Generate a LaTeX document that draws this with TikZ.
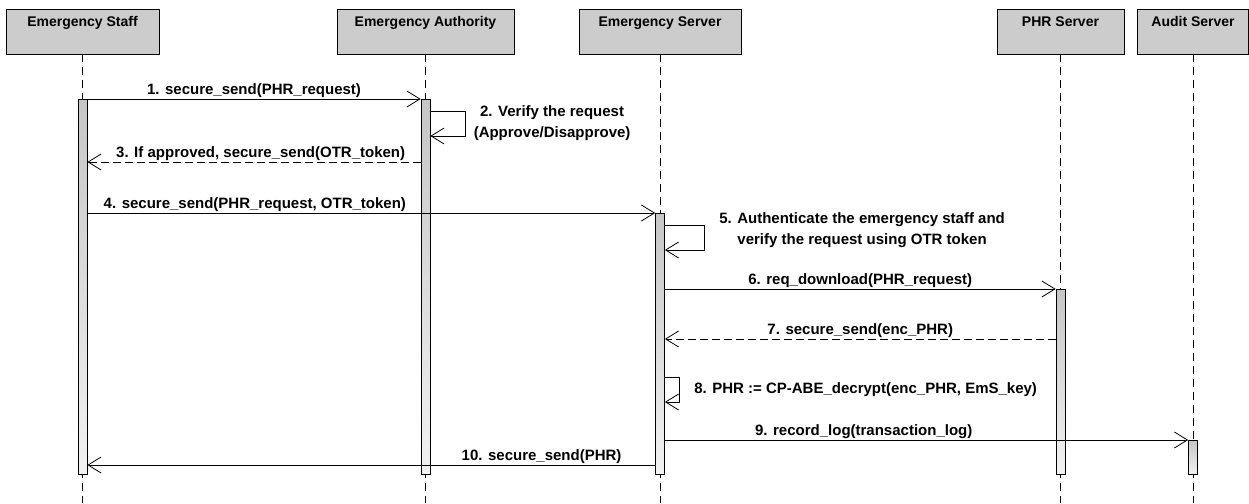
\documentclass[tikz,border=0pt]{standalone}
\usepackage{fontspec}
\setmainfont{Liberation Sans}
\usetikzlibrary{arrows.meta,positioning}
\definecolor{headgray}{RGB}{204,204,204}
\definecolor{bartop}{RGB}{198,198,198}
\definecolor{barbottom}{RGB}{242,242,242}
\tikzset{%
    actorbox/.style={%
        draw, fill=headgray, line width=0.8pt,
        font=\fontsize{14}{16}\selectfont\bfseries,
        text height=15pt, text depth=24pt, inner ysep=3pt, inner xsep=0pt
    },
    actbar/.style={%
        draw, line width=0.7pt, anchor=north, inner sep=0pt,
        minimum width=9pt, minimum height=#1,
        top color=bartop, bottom color=barbottom
    },
    lifeline/.style={line width=0.7pt, dash pattern=on 8pt off 5pt},
    msgarrow/.style={line width=0.8pt, -{Straight Barb[length=13pt,width=16pt]}},
    msgreturn/.style={msgarrow, dash pattern=on 8pt off 4pt},
    msglabel/.style={%
        font=\fontsize{15}{21}\selectfont\bfseries,
        inner sep=1pt, text depth=3pt, align=center
    }
}

\begin{document}
\begin{tikzpicture}[x=1pt, y=-1pt]
\useasboundingbox (0,0) rectangle (1249,503);

\node[actorbox, minimum width=153pt] (staff) at (82.5,31.5) {Emergency Staff};
\node[actorbox, minimum width=177pt] (authority) at (425.5,31.5) {Emergency Authority};
\node[actorbox, minimum width=162pt] (server) at (660,31.5) {Emergency Server};
\node[actorbox, minimum width=127pt] (phr) at (1060.5,31.5) {PHR Server};
\node[actorbox, minimum width=111pt] (audit) at (1193,31.5) {Audit Server};

\draw[lifeline] (staff.south) -- (staff.south |- 0,503);
\draw[lifeline] (authority.south) -- (authority.south |- 0,503);
\draw[lifeline] (server.south) -- (server.south |- 0,503);
\draw[lifeline] (phr.south) -- (phr.south |- 0,503);
\draw[lifeline] (audit.south) -- (audit.south |- 0,503);

\node[actbar=375pt] (staffbar) at (staff.south |- 0,99) {};
\node[actbar=375pt] (authoritybar) at (authority.south |- 0,99) {};
\node[actbar=261pt] (serverbar) at (server.south |- 0,213) {};
\node[actbar=185pt] (phrbar) at (phr.south |- 0,289) {};
\node[actbar=34pt] (auditbar) at (audit.south |- 0,440) {};

\draw[msgarrow] (staffbar.east |- 0,99) -- node[msglabel, above] {1. secure\_send(PHR\_request)} (authoritybar.west |- 0,99);
\draw[msgarrow] (authoritybar.east |- 0,111) -- ++(35,0) |- node[msglabel, pos=0.25, right=7pt] {2. Verify the request\\(Approve/Disapprove)} (authoritybar.east |- 0,136);
\draw[msgreturn] (authoritybar.west |- 0,162) -- node[msglabel, above, pos=0.48] {3. If approved, secure\_send(OTR\_token)} (staffbar.east |- 0,162);
\draw[msgarrow] (staffbar.east |- 0,213) -- node[msglabel, above, pos=0.295] {4. secure\_send(PHR\_request, OTR\_token)} (serverbar.west |- 0,213);
\draw[msgarrow] (serverbar.east |- 0,225) -- ++(40,0) |- node[msglabel, pos=0.25, right=13pt, yshift=7pt] {5. Authenticate the emergency staff and\\verify the request using OTR token} (serverbar.east |- 0,250);
\draw[msgarrow] (serverbar.east |- 0,289) -- node[msglabel, above] {6. req\_download(PHR\_request)} (phrbar.west |- 0,289);
\draw[msgreturn] (phrbar.west |- 0,339) -- node[msglabel, above] {7. secure\_send(enc\_PHR)} (serverbar.east |- 0,339);
\draw[msgarrow] (serverbar.east |- 0,377) -- ++(15,0) |- node[msglabel, pos=0.25, right=13pt] {8. PHR := CP-ABE\_decrypt(enc\_PHR, EmS\_key)} (serverbar.east |- 0,402);
\draw[msgarrow] (serverbar.east |- 0,440) -- node[msglabel, above, pos=0.38] {9. record\_log(transaction\_log)} (auditbar.west |- 0,440);
\draw[msgarrow] (serverbar.west |- 0,465) -- node[msglabel, above, pos=0.2] {10. secure\_send(PHR)} (staffbar.east |- 0,465);
\end{tikzpicture}
\end{document}
